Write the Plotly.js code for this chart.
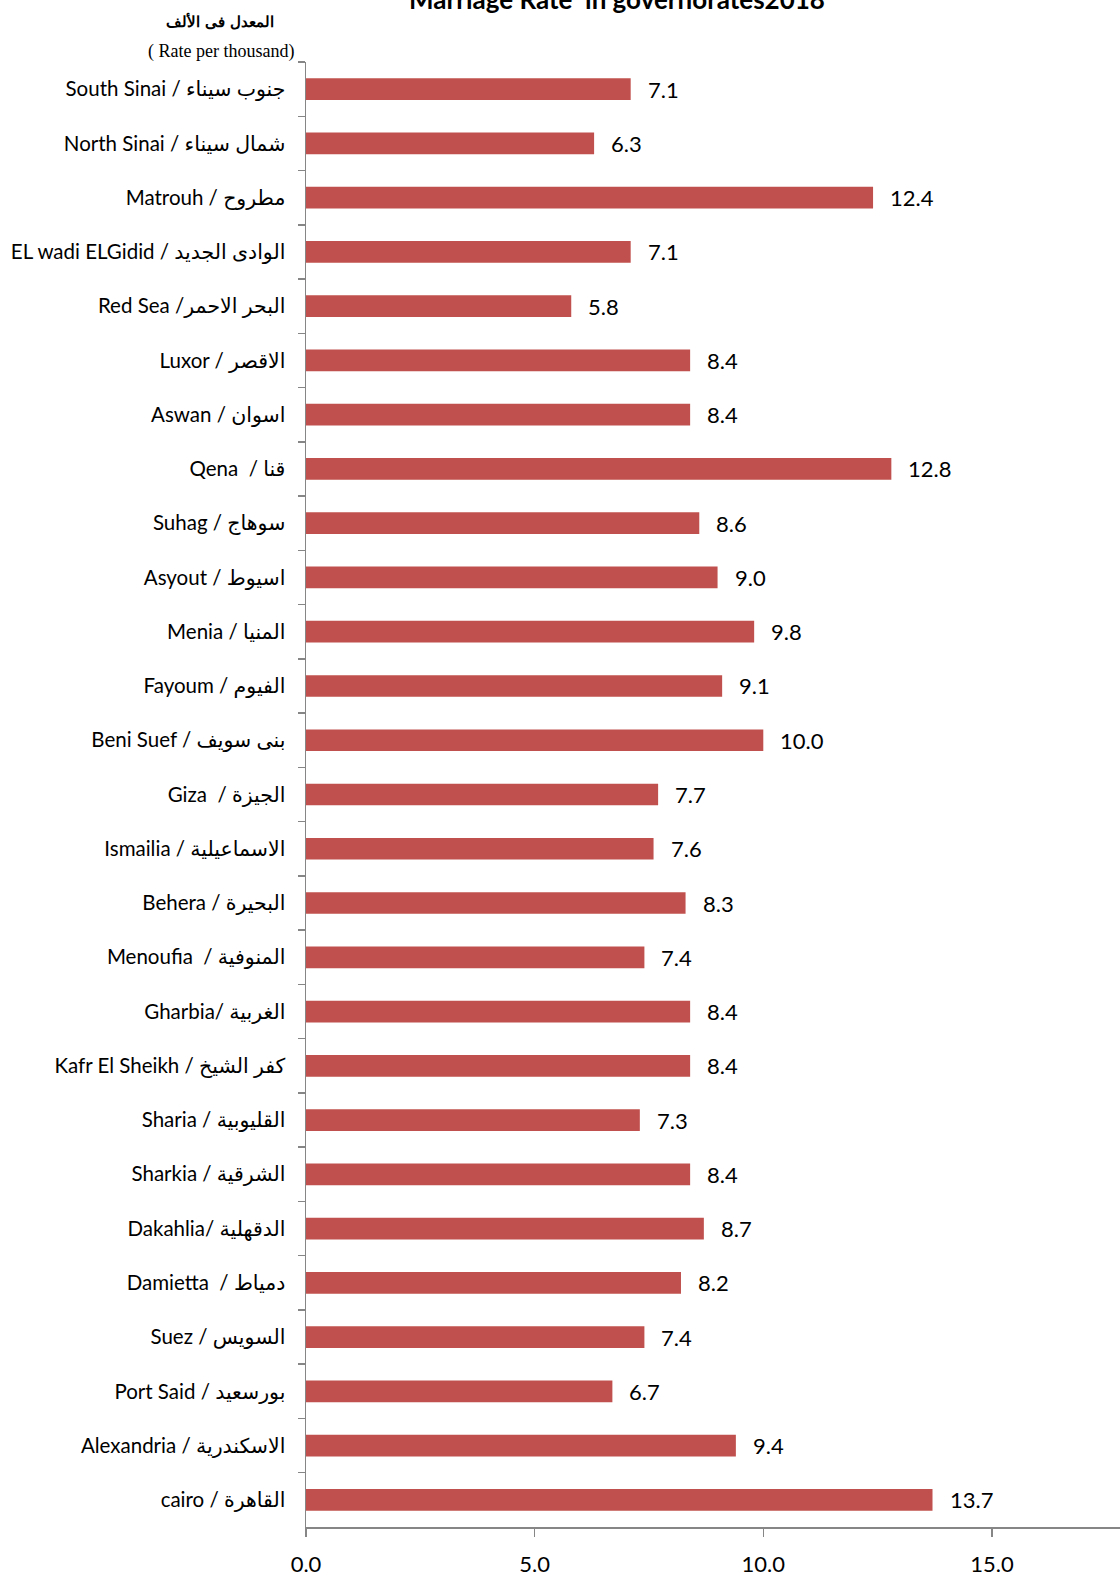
<!DOCTYPE html>
<html>
<head>
<meta charset="utf-8">
<script src="https://cdn.plot.ly/plotly-3.0.1.min.js"></script>
<style>html,body{margin:0;padding:0;background:#fff;}#chart{width:1120px;height:1573px;}</style>
</head>
<body>
<div id="chart"></div>
<script>
const governorates = [
  "South Sinai / جنوب سيناء",
  "North Sinai / شمال سيناء",
  "Matrouh / مطروح",
  "EL wadi ELGidid / الوادى الجديد",
  "Red Sea /البحر الاحمر",
  "Luxor / الاقصر",
  "Aswan / اسوان",
  "Qena  / قنا",
  "Suhag / سوهاج",
  "Asyout / اسيوط",
  "Menia / المنيا",
  "Fayoum / الفيوم",
  "Beni Suef / بنى سويف",
  "Giza  / الجيزة",
  "Ismailia / الاسماعيلية",
  "Behera / البحيرة",
  "Menoufia  / المنوفية",
  "Gharbia/ الغربية",
  "Kafr El Sheikh / كفر الشيخ",
  "Sharia / القليوبية",
  "Sharkia / الشرقية",
  "Dakahlia/ الدقهلية",
  "Damietta  / دمياط",
  "Suez / السويس",
  "Port Said / بورسعيد",
  "Alexandria / الاسكندرية",
  "cairo / القاهرة"
];
const marriageRate = [7.1, 6.3, 12.4, 7.1, 5.8, 8.4, 8.4, 12.8, 8.6, 9.0, 9.8, 9.1, 10.0, 7.7, 7.6, 8.3, 7.4, 8.4, 8.4, 7.3, 8.4, 8.7, 8.2, 7.4, 6.7, 9.4, 13.7];
const xTickValues = [0, 5, 10, 15];

const chartTitle = "Marriage Rate  in governorates2018";
const unitArabic = "المعدل فى الألف";
const unitEnglish = "( Rate per thousand)";

const FONT = "Lato, 'DejaVu Sans', sans-serif";
const AXIS_GREY = "#868686";

const trace = {
  type: "bar",
  orientation: "h",
  x: marriageRate,
  y: governorates,
  width: 0.4,
  marker: {color: "#C0504D", line: {width: 0}},
  hoverinfo: "x+y"
};

const valueLabels = governorates.map((g, i) => ({
  x: marriageRate[i], y: g, xref: "x", yref: "y",
  text: marriageRate[i].toFixed(1),
  showarrow: false, xanchor: "left", yanchor: "middle",
  xshift: 15,
  font: {family: FONT, size: 22, color: "#000"}
}));

const layout = {
  width: 1120, height: 1573,
  margin: {l: 306, r: 0, t: 62, b: 46, pad: 0},
  paper_bgcolor: "#fff", plot_bgcolor: "#fff",
  showlegend: false,
  bargap: 0.6,
  title: {
    text: "<b>" + chartTitle + "</b>",
    x: 617 / 1120, xanchor: "center", xref: "container",
    y: 1, yref: "container", yanchor: "middle", pad: {t: 0, b: 0},
    font: {family: FONT, size: 26, color: "#000"}
  },
  xaxis: {
    range: [0, 17.8],
    tickvals: xTickValues,
    tickformat: ".1f",
    showgrid: false, zeroline: false,
    showline: true, linecolor: AXIS_GREY, linewidth: 1.5,
    ticks: "outside", ticklen: 8, tickwidth: 1.5, tickcolor: AXIS_GREY,
    ticklabelstandoff: 9,
    tickfont: {family: FONT, size: 22, color: "#000"},
    fixedrange: true
  },
  yaxis: {
    type: "category",
    autorange: "reversed",
    showgrid: false, zeroline: false,
    showline: true, linecolor: AXIS_GREY, linewidth: 1.5,
    ticks: "outside", tickson: "boundaries", ticklen: 7, tickwidth: 1.5, tickcolor: AXIS_GREY,
    ticklabelstandoff: 15,
    tickfont: {family: FONT, size: 20.5, color: "#000"},
    fixedrange: true
  },
  annotations: valueLabels.concat([
    {xref: "paper", yref: "paper", x: -86 / 814, y: 1 + 41 / 1465, xanchor: "center", yanchor: "middle",
     text: "<b>" + unitArabic + "</b>", showarrow: false,
     font: {family: "'DejaVu Serif', 'Liberation Serif', serif", size: 15, color: "#000"}},
    {xref: "paper", yref: "paper", x: -85 / 814, y: 1 + 10 / 1465, xanchor: "center", yanchor: "middle",
     text: unitEnglish, showarrow: false,
     font: {family: "'Liberation Serif', serif", size: 18, color: "#000"}}
  ])
};

Plotly.newPlot("chart", [trace], layout, {displayModeBar: false, staticPlot: true});
</script>
</body>
</html>
